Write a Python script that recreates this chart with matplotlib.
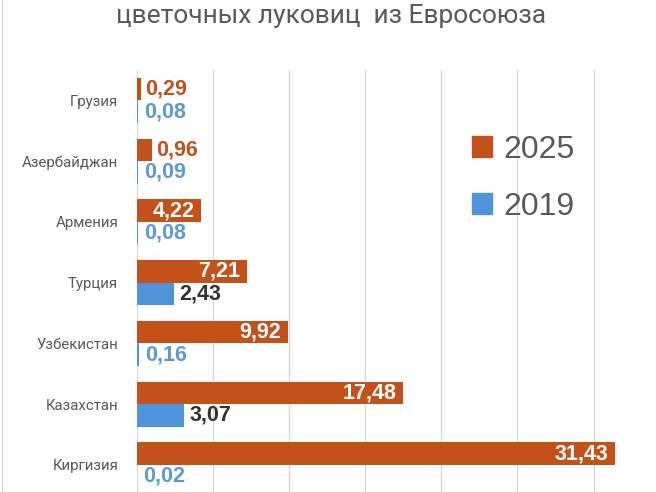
import numpy as np
import matplotlib
matplotlib.use("Agg")
import matplotlib.pyplot as plt
from matplotlib.patches import Patch
from matplotlib.lines import Line2D

categories = ['Грузия', 'Азербайджан', 'Армения', 'Турция', 'Узбекистан', 'Казахстан', 'Киргизия']
v2025 = [0.29, 0.96, 4.22, 7.21, 9.92, 17.48, 31.43]
v2019 = [0.08, 0.09, 0.08, 2.43, 0.16, 3.07, 0.02]
series_names = ['2025', '2019']
title = 'цветочных луковиц  из Евросоюза'

C25 = '#C4511A'
C19 = '#4F94DA'
GREY = '#595959'

W, H = 656, 492
fig = plt.figure(figsize=(W / 100, H / 100), dpi=100)
ax = fig.add_axes([137 / W, 0, 1 - 137 / W, 1 - 70 / H])

y = np.arange(len(categories))
h = 0.37
ax.barh(y - h / 2, v2025, height=h, color=C25)
ax.barh(y + h / 2, v2019, height=h, color=C19)

ax.set_xlim(0, 34.1)
ax.set_ylim(6.445, -0.5)
ax.set_xticks(np.arange(0, 35, 5))
ax.xaxis.grid(True, color='#D9D9D9', linewidth=1)
ax.set_axisbelow(True)
ax.tick_params(axis='x', length=0, labelbottom=False)
ax.tick_params(axis='y', length=0, pad=13.5)
ax.set_yticks(y)
ax.set_yticklabels(categories, fontsize=10.8, color=GREY, family='Roboto')
for s in ax.spines.values():
    s.set_visible(False)

lab_font = dict(fontsize=15.5, fontweight='bold', family='Liberation Sans')
for yi, v in zip(y, v2025):
    txt = f'{v:.2f}'.replace('.', ',')
    if v > 3:
        ax.annotate(txt, (v, yi - h / 2), xytext=(-5, 0), textcoords='offset points',
                    ha='right', va='center', color='white', **lab_font)
    else:
        ax.annotate(txt, (v, yi - h / 2), xytext=(3, 0), textcoords='offset points',
                    ha='left', va='center', color=C25, **lab_font)
for yi, v in zip(y, v2019):
    txt = f'{v:.2f}'.replace('.', ',')
    col = '#333333' if v > 1 else '#5B9BD5'
    ax.annotate(txt, (v, yi + h / 2), xytext=(4, 0), textcoords='offset points',
                ha='left', va='center', color=col, **lab_font)

handles = [Patch(color=C25), Patch(color=C19)]
fig.legend(handles, series_names, loc='upper left', bbox_to_anchor=(472 / W, 1 - 135 / H),
           frameon=False, handlelength=0.63, handleheight=0.63,
           handletextpad=0.34, labelspacing=0.85, borderpad=0, borderaxespad=0,
           labelcolor=GREY, prop=dict(family='Liberation Sans', size=23))

fig.text(331 / W, 1 - 23 / H, title, ha='center', va='baseline', fontsize=19,
         color=GREY, family='Roboto')
fig.add_artist(Line2D([1.5 / W, 1.5 / W], [0, 1], transform=fig.transFigure,
                      color='#D9D9D9', linewidth=1))

fig.savefig('out.png', dpi=100)
